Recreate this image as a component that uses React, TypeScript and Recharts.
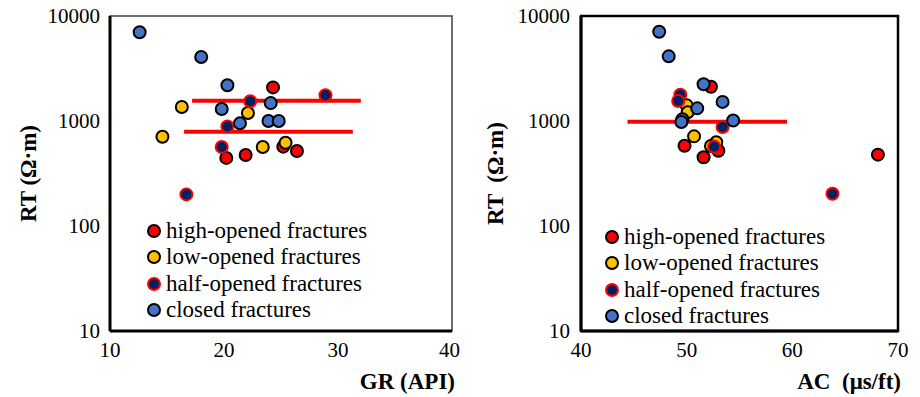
import React from 'react';
import {
  ScatterChart, Scatter, XAxis, YAxis, ReferenceLine, ReferenceArea, Legend, Label
} from 'recharts';

const FONT = '"Times New Roman", "Liberation Serif", "DejaVu Serif", Tinos, serif';

// GR (API) vs RT (ohm.m), left panel
const grHigh = [24.3, 20.2, 21.9, 25.2, 26.4];
const rtHighGr = [2090, 445, 475, 570, 518];
const grLow = [16.3, 14.6, 22.1, 23.4, 25.4];
const rtLowGr = [1360, 708, 1190, 565, 620];
const grHalf = [28.9, 22.3, 20.3, 19.8, 16.7];
const rtHalfGr = [1760, 1540, 885, 565, 200];
const grClosed = [12.6, 18.0, 20.3, 19.8, 24.1, 21.4, 23.9, 24.8];
const rtClosedGr = [7000, 4070, 2190, 1300, 1480, 950, 1000, 1000];
// cut-off lines on GR panel: [xStart, xEnd, rt]
const grCutUpper = [17.2, 32.0, 1560];
const grCutLower = [16.5, 31.3, 790];

// AC (us/ft) vs RT, right panel
const acHigh = [52.3, 49.8, 51.6, 53.0, 68.1];
const rtHighAc = [2120, 582, 451, 521, 478];
const acLow = [50.0, 50.1, 50.7, 52.8, 52.3];
const rtLowAc = [1410, 1210, 714, 627, 578];
const acHalf = [49.4, 49.2, 53.4, 52.6, 63.8];
const rtHalfAc = [1780, 1550, 877, 569, 203];
const acClosed = [49.6, 47.4, 48.3, 51.6, 53.4, 51.0, 49.5, 54.4];
const rtClosedAc = [1040, 7080, 4130, 2240, 1520, 1320, 977, 1010];
const acCut = [44.4, 59.5, 985];

const grTicks = [10, 20, 30, 40];
const acTicks = [40, 50, 60, 70];
const rtTicks = [10, 100, 1000, 10000];

const legendItems = [
  { name: 'high-opened fractures', fill: '#FF0000', stroke: '#000' },
  { name: 'low-opened fractures', fill: '#FFC000', stroke: '#000' },
  { name: 'half-opened fractures', fill: '#002060', stroke: '#FF0000' },
  { name: 'closed fractures', fill: '#4472C4', stroke: '#000' },
];

const zip = (xs: number[], ys: number[]) => xs.map((x, i) => ({ x, y: ys[i] }));

const dot = (fill: string, stroke: string) => (props: any) => (
  <circle cx={props.cx} cy={props.cy} r={6} fill={fill} stroke={stroke} strokeWidth={2} />
);

const LegendBox = () => (
  <div style={{ fontFamily: FONT, fontSize: 23, color: '#000' }}>
    {legendItems.map(it => (
      <div key={it.name} style={{ display: 'flex', alignItems: 'center', height: 26.5, whiteSpace: 'nowrap' }}>
        <svg width={14} height={14} style={{ marginRight: 5 }}>
          <circle cx={7} cy={7} r={6} fill={it.fill} stroke={it.stroke} strokeWidth={2} />
        </svg>
        <span>{it.name}</span>
      </div>
    ))}
  </div>
);

const XTitle = ({ viewBox, text }: any) => (
  <text x={viewBox.x + viewBox.width + 3} y={viewBox.y + 58} textAnchor="end" fontFamily={FONT}
    fontSize={23} fontWeight="bold" fill="#000" style={{ whiteSpace: 'pre' }}>{text}</text>
);

const YTitle = ({ viewBox, text, cx }: any) => {
  const cy = viewBox.y + viewBox.height / 2;
  return (
    <text x={cx} y={cy} transform={`rotate(-90, ${cx}, ${cy})`} textAnchor="middle" fontFamily={FONT}
      dominantBaseline="central" fontSize={23} fontWeight="bold" fill="#000" style={{ whiteSpace: 'pre' }}>{text}</text>
  );
};

const tickStyle = { fill: '#000', fontSize: 21, fontFamily: FONT };

const App: React.FC = () => {
  return (
    <div style={{ position: 'absolute', left: 0, top: 0, width: 920, height: 397, fontFamily: FONT, background: '#fff' }}>
      <div style={{ position: 'absolute', left: 0, top: 0 }}>
        <ScatterChart width={460} height={397} margin={{ top: 16, right: 8, left: 0, bottom: 0 }} style={{ fontFamily: FONT }}>
          <XAxis dataKey="x" type="number" domain={[10, 40]} ticks={grTicks} tickLine={false}
            tickSize={6} tickMargin={5} height={66} tick={tickStyle}
            axisLine={{ stroke: '#000', strokeWidth: 3 }}
            label={<Label content={<XTitle text="GR (API)" />} />} />
          <YAxis dataKey="y" type="number" scale="log" domain={[10, 10000]} ticks={rtTicks}
            allowDataOverflow tickLine={false} tickSize={6} tickMargin={4} width={110} tick={tickStyle}
            axisLine={{ stroke: '#000', strokeWidth: 3 }}
            label={<Label content={<YTitle text="RT (Ω·m)" cx={28} />} />} />
          <ReferenceArea x1={10} x2={40} y1={10} y2={10000} fill="none" stroke="#404040" strokeWidth={1.5} />
          <ReferenceLine segment={[{ x: grCutUpper[0], y: grCutUpper[2] }, { x: grCutUpper[1], y: grCutUpper[2] }]}
            stroke="#FF0000" strokeWidth={4} />
          <ReferenceLine segment={[{ x: grCutLower[0], y: grCutLower[2] }, { x: grCutLower[1], y: grCutLower[2] }]}
            stroke="#FF0000" strokeWidth={4} />
          <Scatter name="high-opened fractures" data={zip(grHigh, rtHighGr)} shape={dot('#FF0000', '#000')} isAnimationActive={false} />
          <Scatter name="low-opened fractures" data={zip(grLow, rtLowGr)} shape={dot('#FFC000', '#000')} isAnimationActive={false} />
          <Scatter name="half-opened fractures" data={zip(grHalf, rtHalfGr)} shape={dot('#002060', '#FF0000')} isAnimationActive={false} />
          <Scatter name="closed fractures" data={zip(grClosed, rtClosedGr)} shape={dot('#4472C4', '#000')} isAnimationActive={false} />
          <Legend layout="vertical" align="center" verticalAlign="middle" content={<LegendBox />}
            wrapperStyle={{ left: 147, top: 217.5, width: 'auto' }} />
        </ScatterChart>
      </div>
      <div style={{ position: 'absolute', left: 460, top: 0 }}>
        <ScatterChart width={460} height={397} margin={{ top: 16, right: 22, left: 0, bottom: 0 }} style={{ fontFamily: FONT }}>
          <XAxis dataKey="x" type="number" domain={[40, 70]} ticks={acTicks} tickLine={false}
            tickSize={6} tickMargin={5} height={66} tick={tickStyle}
            axisLine={{ stroke: '#000', strokeWidth: 3 }}
            label={<Label content={<XTitle text="AC  (μs/ft)" />} />} />
          <YAxis dataKey="y" type="number" scale="log" domain={[10, 10000]} ticks={rtTicks}
            allowDataOverflow tickLine={false} tickSize={6} tickMargin={5} width={121} tick={tickStyle}
            axisLine={{ stroke: '#000', strokeWidth: 3 }}
            label={<Label content={<YTitle text="RT  (Ω·m)" cx={35} />} />} />
          <ReferenceArea x1={40} x2={70} y1={10} y2={10000} fill="none" stroke="#000" strokeWidth={2.5} />
          <ReferenceLine segment={[{ x: acCut[0], y: acCut[2] }, { x: acCut[1], y: acCut[2] }]}
            stroke="#FF0000" strokeWidth={4} />
          <Scatter name="high-opened fractures" data={zip(acHigh, rtHighAc)} shape={dot('#FF0000', '#000')} isAnimationActive={false} />
          <Scatter name="low-opened fractures" data={zip(acLow, rtLowAc)} shape={dot('#FFC000', '#000')} isAnimationActive={false} />
          <Scatter name="half-opened fractures" data={zip(acHalf, rtHalfAc)} shape={dot('#002060', '#FF0000')} isAnimationActive={false} />
          <Scatter name="closed fractures" data={zip(acClosed, rtClosedAc)} shape={dot('#4472C4', '#000')} isAnimationActive={false} />
          <Legend layout="vertical" align="center" verticalAlign="middle" content={<LegendBox />}
            wrapperStyle={{ left: 145, top: 223.5, width: 'auto' }} />
        </ScatterChart>
      </div>
    </div>
  );
};

export default App;
